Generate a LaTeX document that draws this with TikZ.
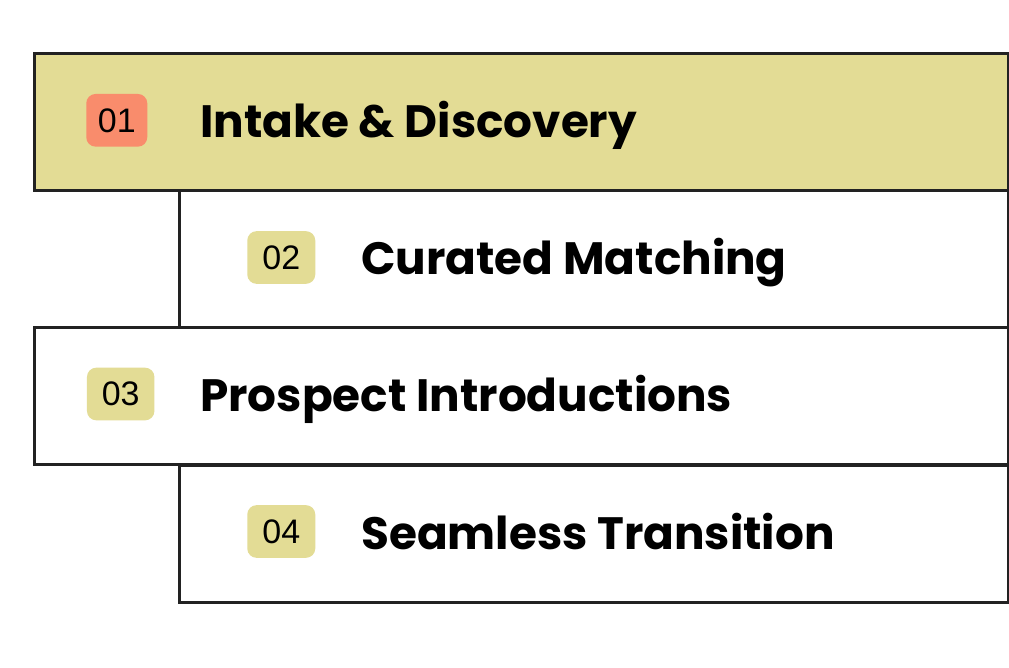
\documentclass[tikz,border=0pt]{standalone}
\usepackage{fontspec}
\usepackage{tikz}
\setmainfont{Poppins}
\newfontfamily\numfont{Liberation Sans}
\definecolor{sand}{HTML}{E3DC95}
\definecolor{coral}{HTML}{F98C6C}
\definecolor{edge}{HTML}{222222}

\begin{document}
\begin{tikzpicture}[x=0.75pt, y=-0.75pt,
  stage/.style={draw=edge, line width=2.25pt, fill=white, inner sep=0pt,
    anchor=north west, minimum height=102.75pt},
  wide/.style={stage, minimum width=730.5pt},
  narrow/.style={stage, minimum width=621.75pt},
  badge/.style={fill=sand, rounded corners=7pt, inner sep=0pt, anchor=west,
    minimum width=51pt, minimum height=39.5pt,
    font=\numfont\fontsize{25.5}{25.5}\selectfont},
  title/.style={anchor=base west, inner sep=0pt,
    font=\bfseries\fontsize{34}{34}\selectfont}]
\useasboundingbox (0,0) rectangle (1009,667);
% the four stages
\node [wide, fill=sand] (row1) at (33,52) {};
\node [narrow] (row2) at (178,189) {};
\node [wide] (row3) at (33,326) {};
\node [narrow] (row4) at (178,464) {};
% numbers
\node [badge, fill=coral, minimum width=45.75pt] (n1) at (86,120.3) {01};
\node [badge] (n2) at (247,257.5) {02};
\node [badge, minimum width=50.6pt] (n3) at (86.7,394) {03};
\node [badge] (n4) at (247,531.5) {04};
% titles
\node [title] (t1) at (200,137) {Intake \& Discovery};
\node [title] (t2) at (361,274) {Curated Matching};
\node [title] (t3) at (200,411.5) {Prospect Introductions};
\node [title] (t4) at (361,549) {Seamless Transition};
\end{tikzpicture}
\end{document}
